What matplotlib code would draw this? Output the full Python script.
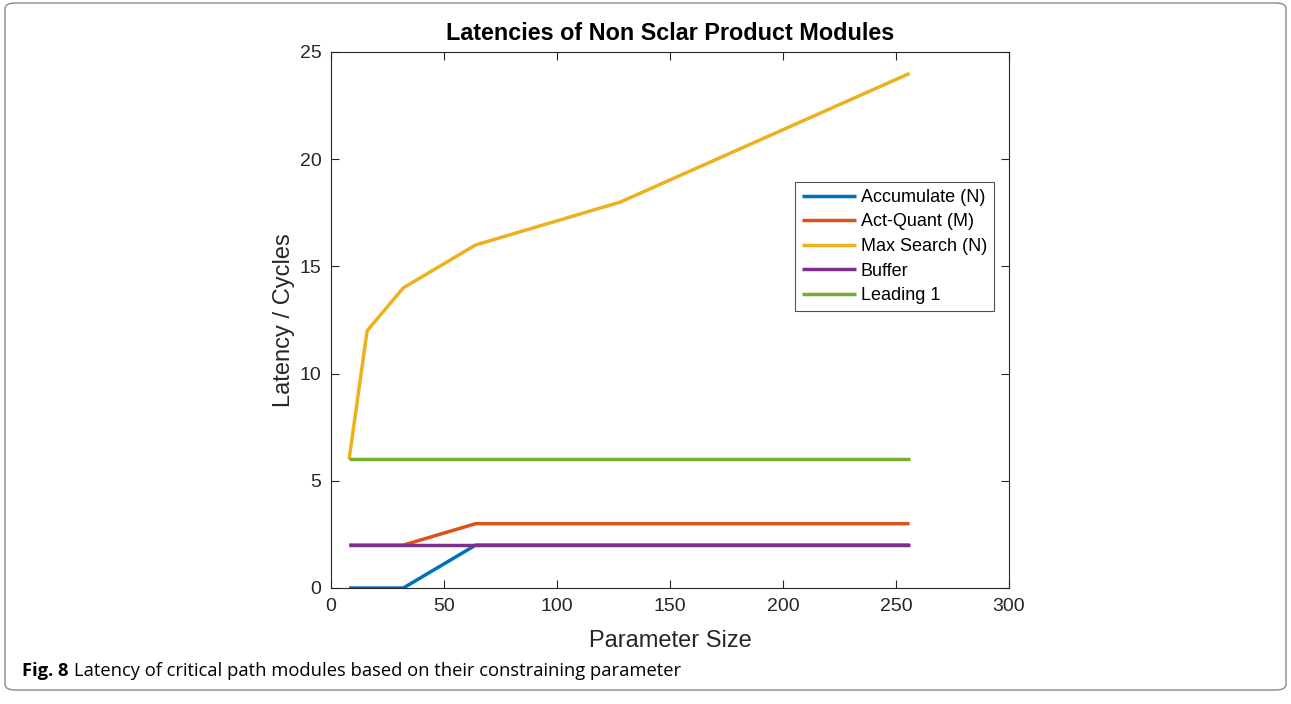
import matplotlib
matplotlib.use("Agg")
import matplotlib.pyplot as plt
from matplotlib.patches import FancyBboxPatch

plt.rcParams['font.family'] = ['Liberation Sans', 'DejaVu Sans']

param_size = [8, 16, 32, 64, 128, 256]
accumulate = [0, 0, 0, 2, 2, 2]
act_quant = [2, 2, 2, 3, 3, 3]
max_search = [6, 12, 14, 16, 18, 24]
buffer = [2, 2, 2, 2, 2, 2]
leading_1 = [6, 6, 6, 6, 6, 6]

series = [
    ("Accumulate (N)", accumulate, "#0072BD"),
    ("Act-Quant (M)", act_quant, "#D95319"),
    ("Max Search (N)", max_search, "#EDB120"),
    ("Buffer", buffer, "#7E2F8E"),
    ("Leading 1", leading_1, "#77AC30"),
]

x_ticks = [0, 50, 100, 150, 200, 250, 300]
y_ticks = [0, 5, 10, 15, 20, 25]

W, H = 1291, 704
fig = plt.figure(figsize=(W / 100, H / 100), dpi=100)

# outer rounded frame
frame = FancyBboxPatch((5 / W, 14 / H), (W - 10) / W, (H - 17) / H,
                       boxstyle="round,pad=0,rounding_size=0.008",
                       transform=fig.transFigure, fill=False,
                       edgecolor="#8a8a8a", linewidth=1.0)
fig.patches.append(frame)

ax_l, ax_r, ax_t, ax_b = 331, 1009, 52, 588
ax = fig.add_axes([ax_l / W, 1 - ax_b / H, (ax_r - ax_l) / W, (ax_b - ax_t) / H])

for label, values, color in series:
    ax.plot(param_size, values, color=color, linewidth=2.5, label=label,
            solid_capstyle='butt')

ax.set_xlim(0, 300)
ax.set_ylim(0, 25)
ax.set_xticks(x_ticks)
ax.set_yticks(y_ticks)
ax.tick_params(direction='in', length=6, width=0.8, labelsize=14,
               colors='#262626', top=True, right=True)
ax.tick_params(axis='x', pad=7)
ax.tick_params(axis='y', pad=7)
for sp in ax.spines.values():
    sp.set_color('#262626')
    sp.set_linewidth(0.8)

ax_w, ax_h = ax_r - ax_l, ax_b - ax_t
fig.text((ax_l + ax_r) / 2 / W, 1 - 33 / H, "Latencies of Non Sclar Product Modules",
         fontsize=16.8, fontweight='bold', color='black', ha='center', va='center')
ax.set_xlabel("Parameter Size", fontsize=17, color='#262626')
ax.xaxis.set_label_coords(0.5, -(641 - 588) / ax_h)
ax.xaxis.label.set_va('center')
ax.set_ylabel("Latency / Cycles", fontsize=17, color='#262626')
ax.yaxis.set_label_coords(-(331 - 284) / ax_w, 0.5)
ax.yaxis.label.set_va('center')

leg = ax.legend(loc='upper left',
                bbox_to_anchor=((795 - ax_l) / ax_w, 1 - (182 - ax_t) / ax_h),
                fontsize=13, frameon=True, fancybox=False, edgecolor='#262626',
                handlelength=3.0, handletextpad=0.25, labelspacing=0.42,
                borderpad=0.38, borderaxespad=0)
leg.get_frame().set_linewidth(0.8)

# caption: bold figure number followed by regular text
cap_y = 1 - 671 / H
cap_font = ['Open Sans', 'DejaVu Sans']
t1 = fig.text(22 / W, cap_y, "Fig. 8", fontsize=13.2, fontweight='bold',
              va='center', ha='left', family=cap_font)
fig.canvas.draw()
bb = t1.get_window_extent(fig.canvas.get_renderer())
fig.text((bb.x1 + 5) / W, cap_y,
         "Latency of critical path modules based on their constraining parameter",
         fontsize=13.2, va='center', ha='left', family=cap_font)

fig.savefig("out.png", dpi=100)
